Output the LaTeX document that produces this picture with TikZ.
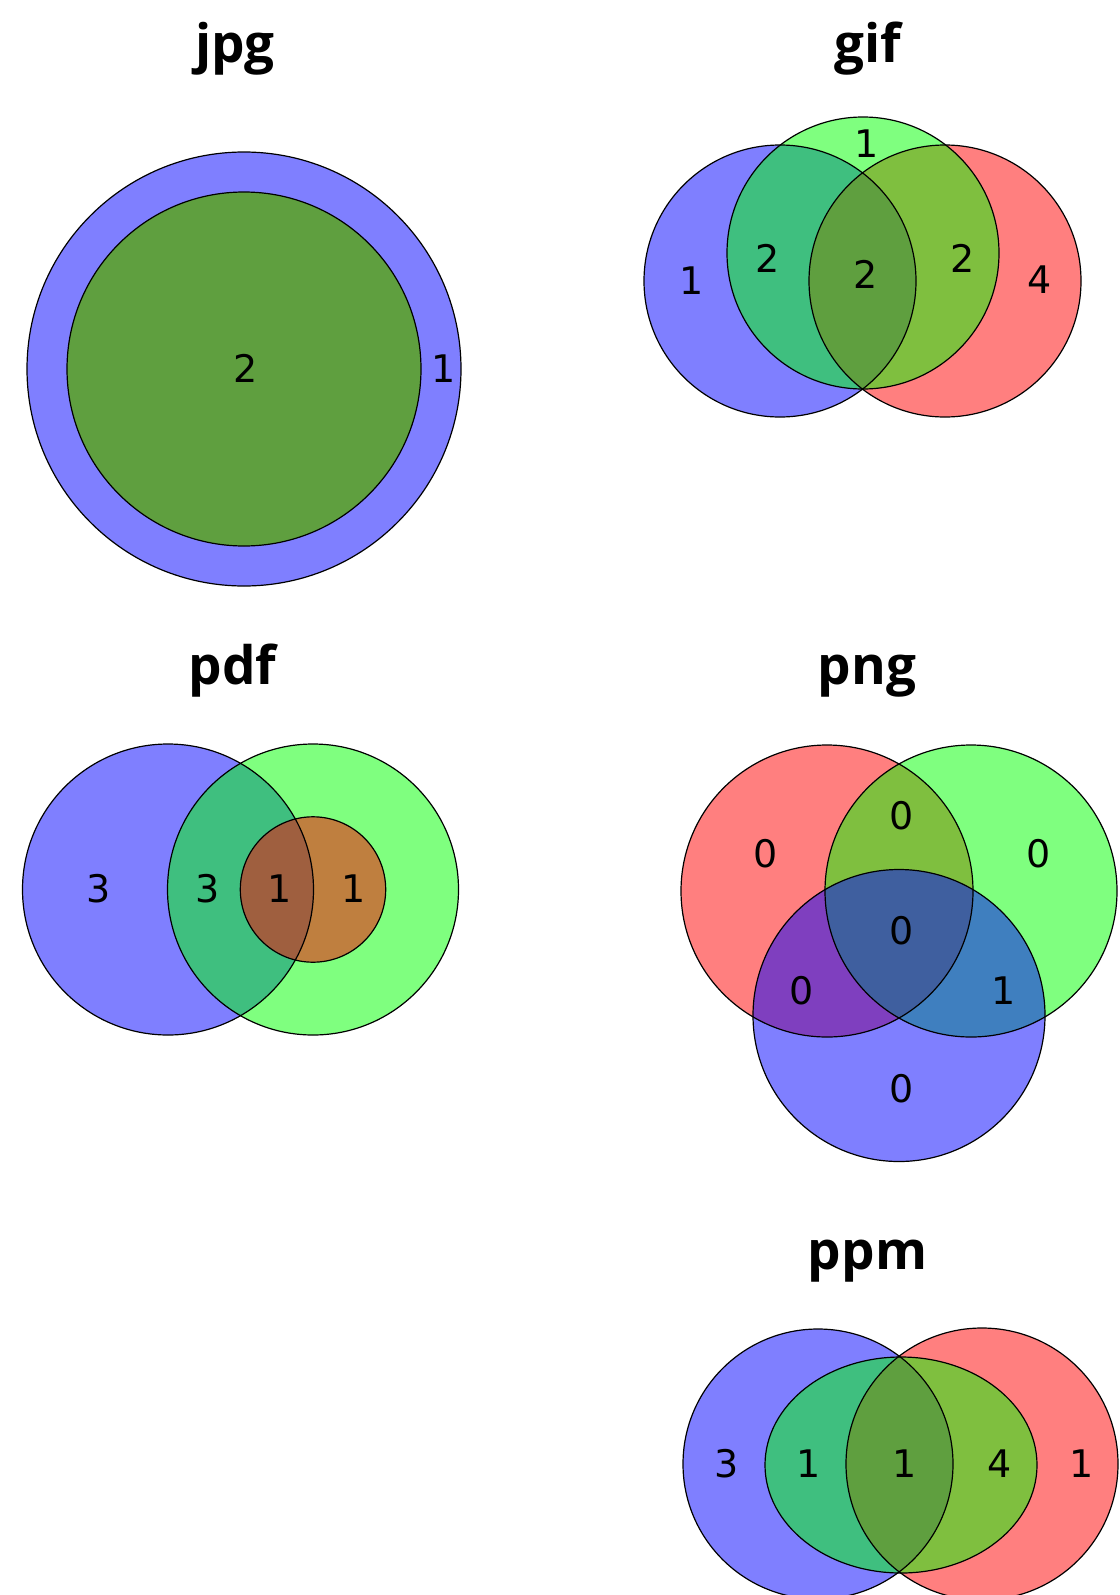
\documentclass[tikz,border=0pt]{standalone}
\usepackage{fontspec}
\newfontfamily\numfont{DejaVu Sans}
\newfontfamily\titlefont{Open Sans}
\tikzset{
  setblue/.style={fill={rgb,255:red,0;green,0;blue,255}, fill opacity=0.5},
  setgreen/.style={fill={rgb,255:red,0;green,255;blue,0}, fill opacity=0.5},
  setred/.style={fill={rgb,255:red,255;green,0;blue,0}, fill opacity=0.5},
  outline/.style={draw=black, line width=1.2pt},
  lbl/.style={font=\numfont\fontsize{38}{38}\selectfont, anchor=base, inner sep=0pt},
  ttl/.style={font=\titlefont\bfseries\fontsize{53}{53}\selectfont, anchor=base, inner sep=0pt}
}
\begin{document}
\begin{tikzpicture}[x=1pt,y=-1pt]
\useasboundingbox (0,0) rectangle (1119,1595);
\fill[white] (0,0) rectangle (1119,1595);

% ---------- jpg ----------
\fill[setblue] (244,369) circle [radius=217pt];
\fill[setred] (244,369) circle [radius=177pt];
\fill[setgreen] (244,369) circle [radius=177pt];
\draw[outline] (244,369) circle [radius=217pt];
\draw[outline] (244,369) circle [radius=177pt];
\node[ttl] (tjpg) at (235,63) {jpg};
\node[lbl] (jpg2) at (246,382) {2};
\node[lbl] (jpg1) at (443.5,382) {1};

% ---------- gif ----------
\fill[setblue] (780,281) circle [radius=136pt];
\fill[setred] (945,281) circle [radius=136pt];
\fill[setgreen] (863,253) circle [radius=136pt];
\draw[outline] (780,281) circle [radius=136pt];
\draw[outline] (945,281) circle [radius=136pt];
\draw[outline] (863,253) circle [radius=136pt];
\node[ttl] (tgif) at (867.5,63) {gif};
\node[lbl] (gifb) at (691.7,294) {1};
\node[lbl] (gifbg) at (767.7,272) {2};
\node[lbl] (gifg) at (866.7,157) {1};
\node[lbl] (gifc) at (865.7,288) {2};
\node[lbl] (gifgr) at (963,272) {2};
\node[lbl] (gifr) at (1040,293) {4};

% ---------- pdf ----------
\fill[setblue] (168,889.5) circle [radius=145.5pt];
\fill[setgreen] (313,889.5) circle [radius=145.5pt];
\fill[setred] (313,889.5) circle [radius=72.7pt];
\draw[outline] (168,889.5) circle [radius=145.5pt];
\draw[outline] (313,889.5) circle [radius=145.5pt];
\draw[outline] (313,889.5) circle [radius=72.7pt];
\node[ttl] (tpdf) at (232.5,684) {pdf};
\node[lbl] (pdfb) at (98.3,902) {3};
\node[lbl] (pdfbg) at (207.3,902) {3};
\node[lbl] (pdfc) at (280,902) {1};
\node[lbl] (pdfr) at (353.3,902) {1};

% ---------- png ----------
\fill[setred] (827,891) circle [radius=146pt];
\fill[setgreen] (971,891) circle [radius=146pt];
\fill[setblue] (899,1015.5) circle [radius=146pt];
\draw[outline] (827,891) circle [radius=146pt];
\draw[outline] (971,891) circle [radius=146pt];
\draw[outline] (899,1015.5) circle [radius=146pt];
\node[ttl] (tpng) at (867,684) {png};
\node[lbl] (pngr) at (765.7,867) {0};
\node[lbl] (pngrg) at (901.7,829) {0};
\node[lbl] (pngg) at (1038.3,867) {0};
\node[lbl] (pngc) at (901.7,944) {0};
\node[lbl] (pngrb) at (801.7,1004) {0};
\node[lbl] (pnggb) at (1003.3,1004) {1};
\node[lbl] (pngb) at (901.7,1102) {0};

% ---------- ppm ----------
\fill[setblue] (818,1464) circle [radius=135pt];
\fill[setred] (982,1464) circle [radius=136pt];
\fill[setgreen] (901,1465) ellipse [x radius=136pt, y radius=108pt];
\draw[outline] (818,1464) circle [radius=135pt];
\draw[outline] (982,1464) circle [radius=136pt];
\draw[outline] (901,1465) ellipse [x radius=136pt, y radius=108pt];
\node[ttl] (tppm) at (867.5,1269) {ppm};
\node[lbl] (ppmb) at (726.7,1477) {3};
\node[lbl] (ppmbg) at (809,1477) {1};
\node[lbl] (ppmc) at (904.3,1477) {1};
\node[lbl] (ppmgr) at (999.3,1477) {4};
\node[lbl] (ppmr) at (1081.7,1477) {1};
\end{tikzpicture}
\end{document}
